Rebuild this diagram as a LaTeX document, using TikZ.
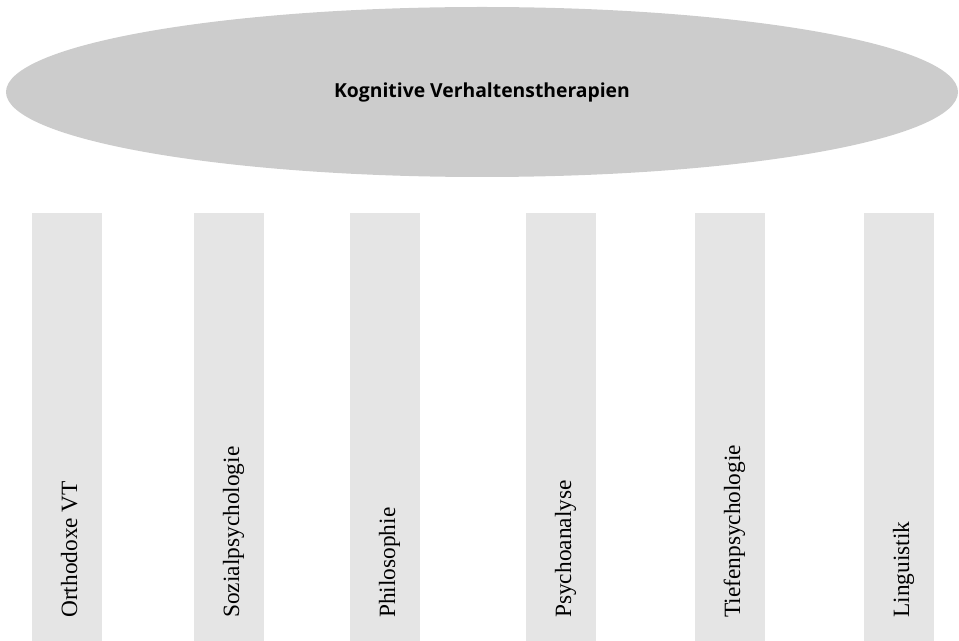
\documentclass[tikz,border=0pt]{standalone}
\usepackage{fontspec}
\setmainfont{Liberation Serif}
\newfontfamily\titlefont{Open Sans}
\usetikzlibrary{shapes.geometric}
\definecolor{ellgray}{HTML}{CCCCCC}
\definecolor{pilgray}{HTML}{E5E5E5}
\begin{document}
\begin{tikzpicture}[x=0.75pt,y=-0.75pt,
  pillar/.style={fill=pilgray,draw=none},
  plabel/.style={rotate=90,anchor=base west,inner sep=0pt,font=\fontsize{17.5}{20}\selectfont}]
\useasboundingbox (0,0) rectangle (959,641);
\node[ellipse,fill=ellgray,draw=none,minimum width=714pt,minimum height=127.5pt,inner sep=0pt,
  font=\titlefont\bfseries\fontsize{14.5}{17}\selectfont] (top) at (482,92) {Kognitive Verhaltenstherapien};
\foreach \x/\n/\t in {32/p1/Orthodoxe VT,194/p2/Sozialpsychologie,350/p3/Philosophie,526/p4/Psychoanalyse,695/p5/Tiefenpsychologie,864/p6/Linguistik}{
  \fill[pillar] (\x,213) rectangle ++(70,428);
  \node[plabel] (\n) at (\x+45,618) {\t};
}
\end{tikzpicture}
\end{document}
